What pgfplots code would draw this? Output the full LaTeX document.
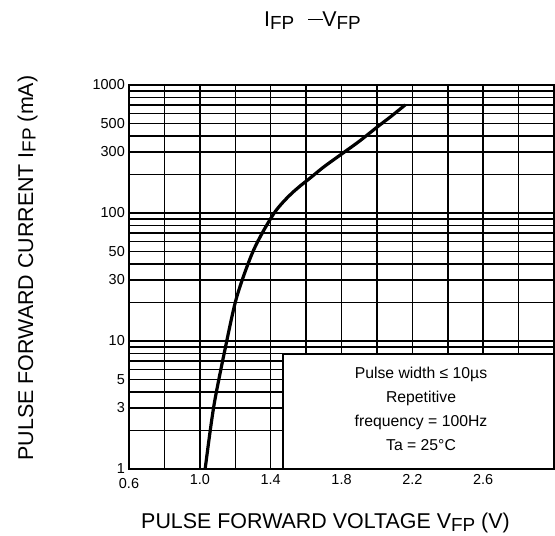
\documentclass[border=0pt]{standalone}
\usepackage{fontspec}
\setmainfont{Liberation Sans}
\usepackage{pgfplots}
\pgfplotsset{compat=1.18}
\newcommand{\sub}[1]{\raisebox{-2.5bp}{\fontsize{19}{19}\selectfont #1}}
\begin{document}
\begin{tikzpicture}[x=1bp,y=1bp]
\useasboundingbox (0,0) rectangle (555,536);
\begin{axis}[
  at={(129bp,67bp)}, anchor=south west, scale only axis,
  width=425bp, height=384bp,
  ymode=log, xmin=0.6, xmax=3.0, ymin=1, ymax=1000,
  xtick={1.0,1.4,1.8,2.2,2.6}, xticklabels={1.0,1.4,1.8,2.2,2.6},
  extra x ticks={0.6}, extra x tick labels={0.6},
  extra x tick style={xticklabel style={yshift=-3.5bp}},
  minor xtick={0.8,1.2,1.6,2.0,2.4,2.8},
  ytick={1,3,5,10,30,50,100,300,500,1000},
  yticklabels={1,3,5,10,30,50,100,300,500,1000},
  minor ytick={2,4,6,7,8,9,20,40,60,70,80,90,200,400,600,700,800,900},
  grid=both,
  major grid style={black, line width=1.5bp},
  minor grid style={black, line width=1.5bp},
  major tick length=0pt, minor tick length=0pt,
  axis line style={black, line width=1.8bp},
  tick label style={font=\fontsize{14.5}{14.5}\selectfont, inner sep=0pt},
  /pgf/number format/assume math mode=true,
  xticklabel style={anchor=north, yshift=-5.5bp},
  yticklabel style={anchor=east, xshift=-4bp},
]
\addplot[black, line width=3.2bp, smooth] coordinates {
  (1.03,1) (1.08,3.16) (1.152,10) (1.20,20) (1.245,31.6) (1.30,50)
  (1.355,70.8) (1.42,100) (1.47,121.6) (1.52,142.9) (1.57,164.1)
  (1.62,186.2) (1.70,229.1) (1.80,288.4) (1.90,363.1) (2.00,467.7)
  (2.08,568.9) (2.16,699.8)
};
\draw[black, fill=white, line width=1.5bp] (axis cs:1.47,1) rectangle (axis cs:3.0,7.9);
\node[align=center, font=\fontsize{15.8}{24}\selectfont] at (axis cs:2.249,2.94)
  {Pulse width ≤ 10µs\\Repetitive\\frequency = 100Hz\\Ta = 25°C};
\end{axis}
\node[anchor=base, font=\fontsize{21.5}{21.5}\selectfont] at (325.5,7)
  {PULSE FORWARD VOLTAGE V\sub{FP} (V)};
\node[anchor=base, rotate=90, font=\fontsize{21.5}{21.5}\selectfont] at (33,268)
  {PULSE FORWARD CURRENT I\sub{FP} (mA)};
\node[anchor=base, font=\fontsize{21.5}{21.5}\selectfont] at (312.5,509.3)
  {I\sub{FP}\hspace{14bp}\rule[6.5bp]{15bp}{1.3bp}\hspace{-1bp}V\sub{FP}};
\end{tikzpicture}
\end{document}
